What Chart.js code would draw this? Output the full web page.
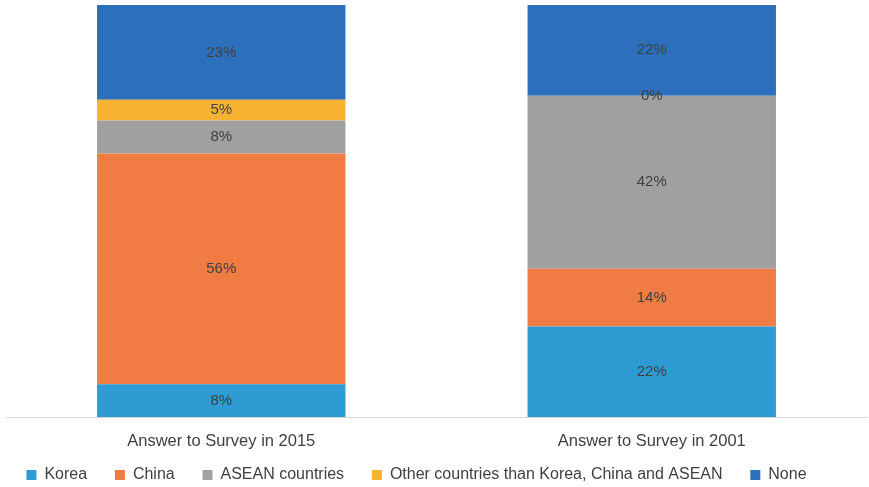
<!DOCTYPE html>
<html>
<head>
<meta charset="utf-8">
<script src="https://cdn.jsdelivr.net/npm/chart.js@4"></script>
<style>
  body { margin: 0; background: #fff; }
  #wrap { width: 869px; height: 487px; }
</style>
</head>
<body>
<div id="wrap"><canvas id="surveyChart"></canvas></div>
<script>
var categories = ["Answer to Survey in 2015", "Answer to Survey in 2001"];
var korea = [8, 22];
var china = [56, 14];
var asean = [8, 42];
var other = [5, 0];
var none = [23, 22];

var FONT = "'Liberation Sans', Arial, sans-serif";

// draws the % label in the middle of each segment
var segmentLabels = {
  id: "segmentLabels",
  afterDatasetsDraw: function (chart) {
    var ctx = chart.ctx;
    ctx.save();
    ctx.font = "15px " + FONT;
    ctx.fillStyle = "#404040";
    ctx.textAlign = "center";
    ctx.textBaseline = "middle";
    chart.data.datasets.forEach(function (ds, i) {
      var meta = chart.getDatasetMeta(i);
      meta.data.forEach(function (bar, j) {
        var y = (bar.y + bar.base) / 2;
        ctx.fillText(ds.data[j] + "%", bar.x, y);
      });
    });
    ctx.restore();
  }
};

var ctx = document.getElementById("surveyChart").getContext("2d");
var surveyChart = new Chart(ctx, {
  type: "bar",
  data: {
    labels: categories,
    datasets: [
      { label: "Korea", data: korea, backgroundColor: "#2E9BD3" },
      { label: "China", data: china, backgroundColor: "#F07C43" },
      { label: "ASEAN countries", data: asean, backgroundColor: "#A0A0A0" },
      { label: "Other countries than Korea, China and ASEAN", data: other, backgroundColor: "#F8B332" },
      { label: "None", data: none, backgroundColor: "#2B6FBD" }
    ]
  },
  options: {
    responsive: true,
    maintainAspectRatio: false,
    animation: false,
    layout: { padding: { top: 5, left: 6, right: 2, bottom: -6 } },
    datasets: { bar: { categoryPercentage: 0.577, barPercentage: 1 } },
    plugins: {
      tooltip: { enabled: false },
      legend: {
        position: "bottom",
        labels: {
          boxWidth: 10,
          boxHeight: 10,
          padding: 10,
          color: "#404040",
          font: { family: FONT, size: 16 },
          // extra spacing between items without extra vertical padding,
          // trailing room on the last one moves the row a bit to the left
          generateLabels: function (chart) {
            var items = Chart.defaults.plugins.legend.labels.generateLabels(chart);
            items.forEach(function (it, i) {
              it.text += (i < items.length - 1) ? "    " : "         ";
            });
            return items;
          }
        }
      }
    },
    scales: {
      x: {
        stacked: true,
        grid: { display: false },
        border: { color: "#D9D9D9" },
        ticks: { color: "#404040", padding: 6, font: { family: FONT, size: 16.5 } }
      },
      y: {
        stacked: true,
        display: false,
        min: 0,
        max: 100
      }
    }
  },
  plugins: [segmentLabels]
});
</script>
</body>
</html>
